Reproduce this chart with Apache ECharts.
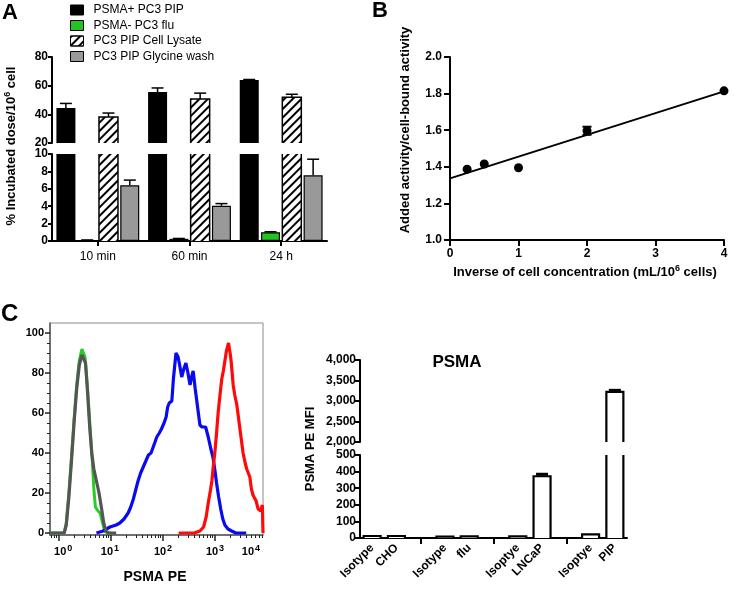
<!DOCTYPE html>
<html><head><meta charset="utf-8">
<script src="https://cdn.jsdelivr.net/npm/echarts@6/dist/echarts.min.js"></script>
<style>html,body{margin:0;padding:0;background:#fff}#c{width:740px;height:591px}</style>
</head><body><div id="c"></div>
<script>
const FONT = 'Liberation Sans, Arial, Helvetica, sans-serif';

// ---------- Panel A ----------
const catsA = ['10 min', '60 min', '24 h'];
const namesA = ['PSMA+ PC3 PIP', 'PSMA- PC3 flu', 'PC3 PIP Cell Lysate', 'PC3 PIP Glycine wash'];
const pipVals = [44.4, 55.6, 64.0];
const pipErr = [3.2, 2.8, 0.3];
const fluVals = [0.1, 0.25, 1.0];
const fluErr = [0.02, 0.04, 0.06];
const lysateVals = [38.1, 50.7, 52.0];
const lysateErr = [2.8, 4.1, 2.0];
const glycineVals = [6.4, 4.05, 7.55];
const glycineErr = [0.6, 0.25, 1.85];

// ---------- Panel B ----------
const invConc = [0.25, 0.5, 1, 2, 4];
const ratio = [1.387, 1.415, 1.395, 1.597, 1.815];
const ratioErr = [0, 0, 0, 0.022, 0];
const fitX = [0, 4];
const fitY = [1.337, 1.812];

// ---------- Panel C flow histogram (log10 PSMA PE, % of max) ----------
const grayIso = [[-0.17,0],[0.10,0],[0.14,4],[0.19,18],[0.24,36],[0.29,55],[0.34,72],[0.39,84],[0.44,89],[0.47,90],[0.51,85],[0.55,70],[0.59,53],[0.63,40],[0.67,32],[0.72,26],[0.77,20],[0.82,12],[0.86,5],[0.90,1],[0.95,0],[1.1,0]];
const greenIso = [[-0.17,0],[0.10,0],[0.14,5],[0.19,20],[0.24,38],[0.29,57],[0.34,74],[0.39,86],[0.44,92],[0.46,93],[0.50,88],[0.55,72],[0.60,52],[0.64,36],[0.67,22],[0.70,13],[0.75,11],[0.79,10],[0.84,5],[0.88,1],[0.93,0],[1.0,0]];
const blueLNCaP = [[0.72,0],[0.85,1],[0.98,3],[1.1,4],[1.17,5],[1.25,7],[1.33,10],[1.38,13],[1.43,17],[1.48,22],[1.52,26],[1.57,30],[1.62,33],[1.67,36],[1.72,39],[1.77,40],[1.80,41],[1.84,45],[1.88,48],[1.93,50],[1.97,52],[2.02,55],[2.06,58],[2.09,63],[2.12,65],[2.17,66],[2.20,77],[2.25,90],[2.29,88],[2.32,84],[2.36,78],[2.40,82],[2.44,85],[2.48,80],[2.52,74],[2.55,78],[2.58,81],[2.62,72],[2.67,62],[2.71,54],[2.75,53],[2.78,54],[2.82,53],[2.87,48],[2.92,42],[2.96,38],[3.0,31],[3.03,25],[3.07,18],[3.11,12],[3.15,7],[3.19,4],[3.25,2],[3.32,1],[3.40,0],[3.6,0]];
const redPIP = [[2.30,0],[2.60,0],[2.71,1],[2.78,3],[2.83,8],[2.87,15],[2.91,21],[2.94,26],[2.97,34],[3.0,41],[3.03,50],[3.06,60],[3.10,70],[3.13,77],[3.16,81],[3.19,86],[3.22,91],[3.26,95],[3.29,90],[3.31,86],[3.35,74],[3.38,69],[3.42,64],[3.45,58],[3.48,52],[3.51,46],[3.54,40],[3.58,35],[3.61,32],[3.64,30],[3.67,28],[3.70,22],[3.73,19],[3.76,18],[3.79,16],[3.83,12],[3.86,11],[3.88,11],[3.91,14],[3.92,14],[3.923,0]];
const flowTickPos = [0.08, 0.98, 2.0, 3.0, 3.69];
const flowTickExp = ['0', '1', '2', '3', '4'];
const flowYTicks = [0, 20, 40, 60, 80, 100];

// ---------- Panel C MFI bars ----------
const mfiCats = ['Isotype', 'CHO', '', 'Isotype', 'flu', '', 'Isoptye', 'LNCaP', '', 'Isoptye', 'PIP'];
const mfiVals = [12, 12, null, 8, 10, null, 10, 372, null, 22, 3225];
const mfiErr = [0, 0, null, 0, 0, null, 0, 12, null, 0, 35];

// ---------- layout constants ----------
const BW_A = 19, STEP_A = 21.3;
const BW_M = 17;
const AX = {lineStyle: {color: '#000', width: 2}};
const TICK = (len) => ({show: true, length: len, lineStyle: {color: '#000', width: 2}});
const BOLD = (sz) => ({color: '#000', fontFamily: FONT, fontWeight: 'bold', fontSize: sz});
const hatch = {symbol: 'rect', symbolSize: 1, color: '#000', dashArrayX: [1, 0], dashArrayY: [2, 3.5], rotation: -Math.PI / 4};

function barA(name, vals, idx, ax, style) {
  return {type: 'bar', name, xAxisIndex: ax, yAxisIndex: ax, data: vals, barWidth: BW_A, barGap: '12%',
    itemStyle: style, emphasis: {disabled: true}, z: 2, silent: true};
}
function errA(vals, errs, idx, ax) {
  return {type: 'custom', xAxisIndex: ax, yAxisIndex: ax, z: 6, silent: true,
    data: vals.map((v, i) => [i, v, errs[i]]),
    renderItem(params, api) {
      const cs = params.coordSys;
      const p = api.coord([api.value(0), api.value(1)]);
      const q = api.coord([api.value(0), api.value(1) + api.value(2)]);
      if (p[1] < cs.y - 0.5 || p[1] > cs.y + cs.height + 0.5) return null;
      const x = p[0] + (idx - 1.5) * STEP_A;
      return {type: 'group', children: [
        {type: 'line', shape: {x1: x, y1: p[1], x2: x, y2: q[1]}, style: {stroke: '#000', lineWidth: 1.5}},
        {type: 'line', shape: {x1: x - 6, y1: q[1], x2: x + 6, y2: q[1]}, style: {stroke: '#000', lineWidth: 1.5}}]};
    }};
}
function outlineA(vals, idx, ax) {
  return {type: 'custom', xAxisIndex: ax, yAxisIndex: ax, z: 5, silent: true,
    data: vals.map((v, i) => [i, v]),
    renderItem(params, api) {
      const cs = params.coordSys;
      const p = api.coord([api.value(0), api.value(1)]);
      const x = p[0] + (idx - 1.5) * STEP_A, xl = x - BW_A / 2, xr = x + BW_A / 2;
      const bot = cs.y + cs.height;
      if (p[1] >= bot) return null;
      const st = {stroke: '#000', lineWidth: 1.5, fill: null};
      if (p[1] < cs.y) return {type: 'group', children: [
        {type: 'line', shape: {x1: xl, y1: cs.y, x2: xl, y2: bot}, style: st},
        {type: 'line', shape: {x1: xr, y1: cs.y, x2: xr, y2: bot}, style: st}]};
      return {type: 'polyline', shape: {points: [[xl, bot], [xl, p[1]], [xr, p[1]], [xr, bot]]}, style: st};
    }};
}
function mfiSeries(ax) {
  return {type: 'custom', xAxisIndex: ax, yAxisIndex: ax, z: 4, silent: true,
    data: mfiVals.map((v, i) => v == null ? null : [i, v, mfiErr[i]]).filter(Boolean),
    renderItem(params, api) {
      const cs = params.coordSys;
      const p = api.coord([api.value(0), api.value(1)]);
      const b = api.coord([api.value(0), 0]);
      const q = api.coord([api.value(0), api.value(1) + api.value(2)]);
      const bot = Math.min(b[1], cs.y + cs.height);
      if (p[1] >= bot) return null;
      const top = Math.max(p[1], cs.y);
      const xl = p[0] - BW_M / 2, xr = p[0] + BW_M / 2;
      const st = {stroke: '#000', lineWidth: 2.2, fill: null};
      const ch = [{type: 'rect', shape: {x: xl, y: top, width: BW_M, height: bot - top}, style: {fill: '#fff'}}];
      if (p[1] < cs.y) {
        ch.push({type: 'line', shape: {x1: xl, y1: cs.y, x2: xl, y2: bot}, style: st});
        ch.push({type: 'line', shape: {x1: xr, y1: cs.y, x2: xr, y2: bot}, style: st});
      } else {
        ch.push({type: 'polyline', shape: {points: [[xl, bot], [xl, top], [xr, top], [xr, bot]]}, style: st});
        if (api.value(2) > 0) {
          ch.push({type: 'line', shape: {x1: p[0], y1: p[1], x2: p[0], y2: q[1]}, style: {stroke: '#000', lineWidth: 2}});
          ch.push({type: 'line', shape: {x1: p[0] - 6, y1: q[1], x2: p[0] + 6, y2: q[1]}, style: {stroke: '#000', lineWidth: 3}});
        }
      }
      return {type: 'group', children: ch};
    }};
}

const flowMinorX = [];
for (let d = -1; d < 4; d++) for (let k = 2; k <= 9; k++) {
  const v = d + Math.log10(k);
  if (v > -0.17 && v < 3.92) flowMinorX.push(v);
}
const flowMinorY = [];
for (let v = 5; v < 105; v += 5) if (v % 20 !== 0) flowMinorY.push(v);

const sup = {s: {fontSize: 9, fontWeight: 'bold', fontFamily: FONT, verticalAlign: 'top', padding: [0, 0, 7, 1], color: '#000'}};
const supN = (fs) => ({s: {fontSize: Math.round(fs * 0.7), fontWeight: 'bold', fontFamily: FONT, verticalAlign: 'top', padding: [0, 0, 6, 0]}});

const option = {
  animation: false,
  backgroundColor: '#fff',
  grid: [
    {left: 52, top: 57, width: 275, height: 86, outerBoundsMode: 'none'},
    {left: 52, top: 154, width: 275, height: 87, outerBoundsMode: 'none'},
    {left: 450, top: 57, width: 274, height: 183, outerBoundsMode: 'none'},
    {left: 50, top: 323, width: 213, height: 212, outerBoundsMode: 'none', show: true, borderColor: '#8a8a8a', borderWidth: 1},
    {left: 360, top: 360, width: 267, height: 82, outerBoundsMode: 'none'},
    {left: 360, top: 455, width: 267, height: 83, outerBoundsMode: 'none'}
  ],
  legend: {
    orient: 'vertical', left: 70, top: 3, padding: 0, itemWidth: 13, itemHeight: 10, itemGap: 1.5,
    selectedMode: false,
    textStyle: {fontFamily: FONT, fontSize: 12, color: '#000', lineHeight: 14, padding: [0, 0, 0, 5]},
    data: [
      {name: namesA[0], icon: 'rect', itemStyle: {color: '#000', borderColor: '#000', borderWidth: 1}},
      {name: namesA[1], icon: 'rect', itemStyle: {color: '#22c322', borderColor: '#000', borderWidth: 1}},
      {name: namesA[2], icon: 'rect', itemStyle: {color: '#fff', borderColor: '#000', borderWidth: 1, decal: hatch}},
      {name: namesA[3], icon: 'rect', itemStyle: {color: '#999', borderColor: '#000', borderWidth: 1}}
    ]
  },
  xAxis: [
    {gridIndex: 0, type: 'category', data: catsA, show: false},
    {gridIndex: 1, type: 'category', data: catsA, axisLine: AX,
      axisTick: Object.assign(TICK(5), {alignWithLabel: true}),
      axisLabel: {color: '#000', fontFamily: FONT, fontSize: 12, margin: 10}},
    {gridIndex: 2, type: 'value', min: 0, max: 4, interval: 1, axisLine: {show: true, onZero: false, lineStyle: {color: '#000', width: 2}},
      axisTick: TICK(6), axisLabel: Object.assign(BOLD(12), {margin: 8}), splitLine: {show: false}},
    {gridIndex: 3, type: 'value', min: -0.173, max: 3.923, offset: 0, axisLine: {show: true, onZero: false, lineStyle: {color: '#555', width: 1.5}},
      axisTick: {show: true, inside: false, length: 6, customValues: [0, 1, 2, 3], lineStyle: {color: '#222', width: 1.5}},
      axisLabel: Object.assign(BOLD(11), {margin: 9, customValues: flowTickPos, rich: sup,
        formatter: (v) => { let k = 0; flowTickPos.forEach((p, i) => { if (Math.abs(p - v) < Math.abs(flowTickPos[k] - v)) k = i; }); return '10{s|' + flowTickExp[k] + '}'; }}),
      splitLine: {show: false}},
    {gridIndex: 4, type: 'category', data: mfiCats, show: false},
    {gridIndex: 5, type: 'category', data: mfiCats, axisLine: AX,
      axisTick: Object.assign(TICK(6), {alignWithLabel: true, interval: (i) => mfiCats[i] === ''}),
      axisLabel: Object.assign(BOLD(12), {interval: 0, rotate: 45, margin: 8})},
    {gridIndex: 3, type: 'value', min: -0.173, max: 3.923, position: 'bottom', offset: 0, axisLine: {show: false, onZero: false},
      axisTick: {show: true, inside: false, length: 3, customValues: flowMinorX, lineStyle: {color: '#222', width: 1}},
      axisLabel: {show: false}, splitLine: {show: false}}
  ],
  yAxis: [
    {gridIndex: 0, type: 'value', min: 20, max: 80, interval: 20, axisLine: {show: true, lineStyle: {color: '#000', width: 2}},
      axisTick: TICK(4), axisLabel: Object.assign(BOLD(12), {margin: 4}), splitLine: {show: false}},
    {gridIndex: 1, type: 'value', min: 0, max: 10, interval: 2, axisLine: {show: true, lineStyle: {color: '#000', width: 2}},
      axisTick: TICK(4), axisLabel: Object.assign(BOLD(12), {margin: 4}), splitLine: {show: false}},
    {gridIndex: 2, type: 'value', min: 1.0, max: 2.0, interval: 0.2, axisLine: {show: true, onZero: false, lineStyle: {color: '#000', width: 2}},
      axisTick: TICK(6), axisLabel: Object.assign(BOLD(12), {margin: 8, formatter: (v) => v.toFixed(1)}), splitLine: {show: false}},
    {gridIndex: 3, type: 'value', min: -1, max: 105, position: 'left', offset: 0, axisLine: {show: true, onZero: false, lineStyle: {color: '#555', width: 1.5}},
      axisTick: {show: true, inside: false, length: 5, customValues: flowYTicks, lineStyle: {color: '#222', width: 1.5}},
      axisLabel: Object.assign(BOLD(11), {margin: 6, customValues: flowYTicks}), splitLine: {show: false}},
    {gridIndex: 4, type: 'value', min: 2000, max: 4000, interval: 500, axisLine: {show: true, lineStyle: {color: '#000', width: 2}},
      axisTick: TICK(5), axisLabel: Object.assign(BOLD(12), {margin: 4, formatter: (v) => v.toLocaleString('en-US')}), splitLine: {show: false}},
    {gridIndex: 5, type: 'value', min: 0, max: 500, interval: 100, axisLine: {show: true, lineStyle: {color: '#000', width: 2}},
      axisTick: TICK(5), axisLabel: Object.assign(BOLD(12), {margin: 4}), splitLine: {show: false}},
    {gridIndex: 3, type: 'value', min: -1, max: 105, position: 'left', offset: 0, axisLine: {show: false, onZero: false},
      axisTick: {show: true, inside: false, length: 3, customValues: flowMinorY, lineStyle: {color: '#222', width: 1}},
      axisLabel: {show: false}, splitLine: {show: false}}
  ],
  series: [
    ...[0, 1].flatMap(ax => [
      barA(namesA[0], pipVals, 0, ax, {color: '#000'}),
      barA(namesA[1], fluVals, 1, ax, {color: '#22c322', borderColor: '#000', borderWidth: 1.2}),
      barA(namesA[2], lysateVals, 2, ax, {color: '#fff', decal: hatch}),
      barA(namesA[3], glycineVals, 3, ax, {color: '#999', borderColor: '#000', borderWidth: 1.2}),
      outlineA(lysateVals, 2, ax)
    ]),
    errA(pipVals, pipErr, 0, 0),
    errA(lysateVals, lysateErr, 2, 0),
    errA(fluVals, fluErr, 1, 1),
    errA(glycineVals, glycineErr, 3, 1),
    {type: 'line', xAxisIndex: 2, yAxisIndex: 2, data: fitX.map((x, i) => [x, fitY[i]]), symbol: 'none',
      lineStyle: {color: '#000', width: 2}, silent: true, z: 2},
    {type: 'scatter', xAxisIndex: 2, yAxisIndex: 2, data: invConc.map((x, i) => [x, ratio[i]]), symbol: 'circle', symbolSize: 9,
      itemStyle: {color: '#000', opacity: 1}, silent: true, z: 3},
    {type: 'custom', xAxisIndex: 2, yAxisIndex: 2, silent: true, z: 4,
      data: invConc.map((x, i) => [x, ratio[i], ratioErr[i]]).filter(d => d[2] > 0),
      renderItem(params, api) {
        const a = api.coord([api.value(0), api.value(1) + api.value(2)]);
        const b = api.coord([api.value(0), api.value(1) - api.value(2)]);
        const st = {stroke: '#000', lineWidth: 2};
        return {type: 'group', children: [
          {type: 'line', shape: {x1: a[0], y1: a[1], x2: b[0], y2: b[1]}, style: st},
          {type: 'line', shape: {x1: a[0] - 4.5, y1: a[1], x2: a[0] + 4.5, y2: a[1]}, style: st},
          {type: 'line', shape: {x1: b[0] - 4.5, y1: b[1], x2: b[0] + 4.5, y2: b[1]}, style: st}]};
      }},
    {type: 'line', xAxisIndex: 3, yAxisIndex: 3, data: greenIso, symbol: 'none', lineStyle: {color: '#27cc27', width: 3}, silent: true, z: 3},
    {type: 'line', xAxisIndex: 3, yAxisIndex: 3, data: grayIso, symbol: 'none', lineStyle: {color: '#555555', width: 3.2}, silent: true, z: 4},
    {type: 'line', xAxisIndex: 3, yAxisIndex: 3, data: blueLNCaP, symbol: 'none', lineStyle: {color: '#0a0af0', width: 3.2}, silent: true, z: 3},
    {type: 'line', xAxisIndex: 3, yAxisIndex: 3, data: redPIP, symbol: 'none', lineStyle: {color: '#ff0a0a', width: 3.2}, silent: true, z: 3},
    mfiSeries(4),
    mfiSeries(5)
  ],
  graphic: [
    {type: 'text', x: 2, y: 2, style: {text: 'A', fontSize: 22, fontWeight: 'bold', fontFamily: FONT, fill: '#000', verticalAlign: 'top'}},
    {type: 'text', x: 372, y: 0, style: {text: 'B', fontSize: 22, fontWeight: 'bold', fontFamily: FONT, fill: '#000', verticalAlign: 'top'}},
    {type: 'text', x: 1, y: 302, style: {text: 'C', fontSize: 24, fontWeight: 'bold', fontFamily: FONT, fill: '#000', verticalAlign: 'top'}},
    {type: 'text', x: 11, y: 146, rotation: Math.PI / 2,
      style: {text: '% Incubated dose/10{s|6} cell', fontSize: 13, fontWeight: 'bold', fontFamily: FONT, fill: '#000', align: 'center', verticalAlign: 'middle', rich: supN(13)}},
    {type: 'text', x: 405, y: 130, rotation: Math.PI / 2,
      style: {text: 'Added activity/cell-bound activity', fontSize: 13, fontWeight: 'bold', fontFamily: FONT, fill: '#000', align: 'center', verticalAlign: 'middle'}},
    {type: 'text', x: 585, y: 272,
      style: {text: 'Inverse of cell concentration (mL/10{s|6} cells)', fontSize: 13, fontWeight: 'bold', fontFamily: FONT, fill: '#000', align: 'center', verticalAlign: 'middle', rich: supN(13)}},
    {type: 'text', x: 155, y: 577,
      style: {text: 'PSMA PE', fontSize: 14, fontWeight: 'bold', fontFamily: FONT, fill: '#000', align: 'center', verticalAlign: 'middle'}},
    {type: 'text', x: 310, y: 449, rotation: Math.PI / 2,
      style: {text: 'PSMA PE MFI', fontSize: 13, fontWeight: 'bold', fontFamily: FONT, fill: '#000', align: 'center', verticalAlign: 'middle'}},
    {type: 'text', x: 457, y: 362,
      style: {text: 'PSMA', fontSize: 17, fontWeight: 'bold', fontFamily: FONT, fill: '#000', align: 'center', verticalAlign: 'middle'}}
  ]
};
const chart = echarts.init(document.getElementById('c'), null, {renderer: 'canvas'});
chart.setOption(option);
</script></body></html>
